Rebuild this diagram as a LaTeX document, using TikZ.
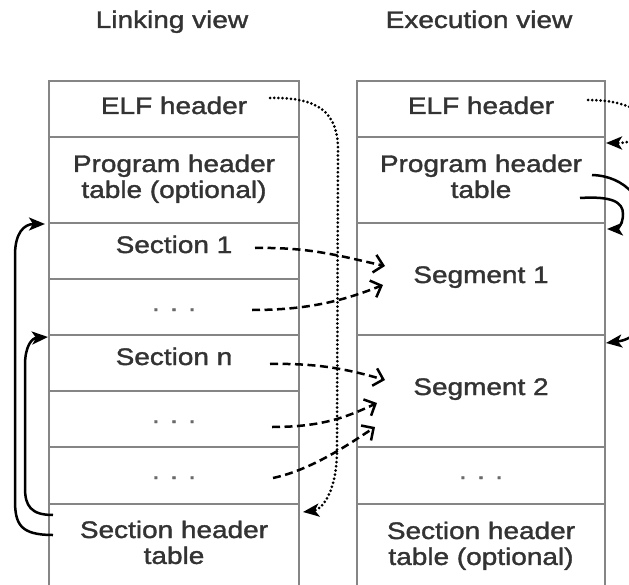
\documentclass[tikz,border=0pt]{standalone}
\usepackage{fontspec}
\setmainfont[FakeStretch=1.17,FakeBold=1.5]{Liberation Sans}
\usetikzlibrary{arrows.meta,calc}
\definecolor{boxline}{HTML}{858585}
\definecolor{txt}{HTML}{333333}
\definecolor{dotc}{HTML}{6A6A6A}
\begin{document}
\begin{tikzpicture}[x=1bp,y=-1bp,
  rowbox/.style={draw=boxline,line width=2bp,inner sep=0pt,outer sep=0pt,anchor=north west},
  lcol/.style={rowbox,minimum width=250bp},
  rcol/.style={rowbox,minimum width=248bp},
  lab/.style={text=txt,font=\fontsize{24}{26}\selectfont,inner sep=0pt,anchor=base},
  ellip/.style={lab,text=dotc},
  solidarr/.style={line width=2.5bp,draw=black,-{Stealth[length=16bp,width=13bp,inset=4bp]}},
  dotarr/.style={line width=3bp,draw=black,dash pattern=on 0pt off 4.2bp,line cap=round,-{Stealth[length=16bp,width=13bp,inset=4bp]}},
  dasharr/.style={line width=2.5bp,draw=black,dash pattern=on 8bp off 4.5bp,-{Straight Barb[length=9bp,width=18bp]}}]
\useasboundingbox (0,0) rectangle (629,585);
\fill[white] (0,0) rectangle (629,585);
\clip (0,0) rectangle (629,585);

% titles
\node[lab] (ttl1) at (172,28) {Linking view};
\node[lab] (ttl2) at (479,28) {Execution view};

% left column rows
\node[lcol,minimum height=56bp] (L1) at (49,81) {};
\node[lcol,minimum height=86bp] (L2) at (49,137) {};
\node[lcol,minimum height=56bp] (L3) at (49,223) {};
\node[lcol,minimum height=56bp] (L4) at (49,279) {};
\node[lcol,minimum height=56bp] (L5) at (49,335) {};
\node[lcol,minimum height=56bp] (L6) at (49,391) {};
\node[lcol,minimum height=57bp] (L7) at (49,447) {};
\node[lcol,minimum height=86bp] (L8) at (49,504) {};

% right column rows
\node[rcol,minimum height=56bp] (R1) at (357,81) {};
\node[rcol,minimum height=86bp] (R2) at (357,137) {};
\node[rcol,minimum height=112bp] (R3) at (357,223) {};
\node[rcol,minimum height=112bp] (R4) at (357,335) {};
\node[rcol,minimum height=57bp] (R5) at (357,447) {};
\node[rcol,minimum height=86bp] (R6) at (357,504) {};

% left texts
\node[lab] (tL1) at (174,114) {ELF header};
\node[lab] (tL2) at (174,172) {\begin{tabular}[t]{@{}c@{}}Program header\\table (optional)\end{tabular}};
\node[lab] (tL3) at (174,253) {Section 1};
\node[ellip] (tL4) at (174,311) {. . .};
\node[lab] (tL5) at (174,365) {Section n};
\node[ellip] (tL6) at (174,423) {. . .};
\node[ellip] (tL7) at (174,479) {. . .};
\node[lab] (tL8) at (174,538) {\begin{tabular}[t]{@{}c@{}}Section header\\table\end{tabular}};

% right texts
\node[lab] (tR1) at (481,114) {ELF header};
\node[lab] (tR2) at (481,172) {\begin{tabular}[t]{@{}c@{}}Program header\\table\end{tabular}};
\node[lab] (tR3) at (481,283) {Segment 1};
\node[lab] (tR4) at (481,395) {Segment 2};
\node[ellip] (tR5) at (481,479) {. . .};
\node[lab] (tR6) at (481,539) {\begin{tabular}[t]{@{}c@{}}Section header\\table (optional)\end{tabular}};

% connector end points
\coordinate (eL1) at (270,98);
\coordinate (toL8) at ($(L8.north east)+(4,8)$);
\coordinate (shA) at ($(L8.north west)+(4,31)$);
\coordinate (shB) at ($(L8.north west)+(4,11)$);
\coordinate (toL3) at ($(L3.north west)+(-4,1)$);
\coordinate (toL5) at ($(L5.north west)+(-1,2)$);
\coordinate (eR1) at (588,100);
\coordinate (toR2) at ($(R2.north east)+(1,6)$);
\coordinate (pR1) at (592,175);
\coordinate (pR2) at (580,198);
\coordinate (toR3) at ($(R3.north east)+(2,6)$);
\coordinate (toR4) at ($(R4.north east)+(1,8)$);
\coordinate (d1s) at (255,248); \coordinate (d1e) at (385,266);
\coordinate (d2s) at (252,310); \coordinate (d2e) at (383,285);
\coordinate (d3s) at (270,364); \coordinate (d3e) at (385,380);
\coordinate (d4s) at (272,427); \coordinate (d4e) at (377,403);
\coordinate (d5s) at (273,478); \coordinate (d5e) at (375,427);

% left solid arrows
\draw[solidarr] (shA) .. controls (20,535) and (15,524) .. (15,500) -- (15,255) .. controls (15,233) and (24,224) .. (toL3);
\draw[solidarr] (shB) .. controls (31,515) and (25,506) .. (25,488) -- (25,365) .. controls (25,346) and (32,338) .. (toL5);

% dotted arrows
\draw[dotarr] (eL1) .. controls (318,97) and (338,112) .. (338,150) -- (337,450) .. controls (337,495) and (320,510) .. (toL8);
\draw[dotarr] (eR1) .. controls (660,100) and (660,143) .. (toR2);

% right solid arrows
\draw[solidarr] (pR1) .. controls (625,176) and (648,200) .. (648,240) -- (648,300) .. controls (648,330) and (630,340) .. (toR4);
\draw[solidarr] (pR2) .. controls (612,196) and (623,202) .. (623,214) .. controls (623,226) and (616,229) .. (toR3);

% dashed arrows
\draw[dasharr] (d1s) .. controls (310,247) and (340,256) .. (d1e);
\draw[dasharr] (d2s) .. controls (310,310) and (345,300) .. (d2e);
\draw[dasharr] (d3s) .. controls (320,363) and (350,370) .. (d3e);
\draw[dasharr] (d4s) .. controls (320,427) and (345,418) .. (d4e);
\draw[dasharr] (d5s) .. controls (310,470) and (345,447) .. (d5e);
\end{tikzpicture}
\end{document}
